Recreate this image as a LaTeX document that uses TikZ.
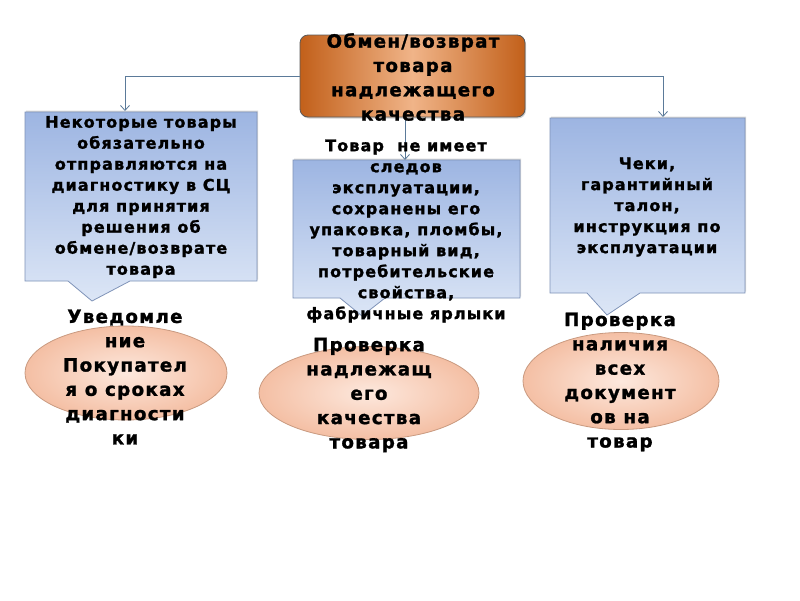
\documentclass[tikz,border=0pt]{standalone}
\usepackage{fontspec}
\setmainfont{DejaVu Sans}[LetterSpace=7, BoldFeatures={FakeBold=1.4}]
\usetikzlibrary{arrows.meta,shadows,shapes.geometric}
\definecolor{orOut}{HTML}{C2601A}
\definecolor{orIn}{HTML}{F0B488}
\definecolor{blTop}{HTML}{9DB5E2}
\definecolor{blBot}{HTML}{DCE6F6}
\definecolor{blEdge}{HTML}{7F93B8}
\definecolor{peOut}{HTML}{F4BFA4}
\definecolor{peIn}{HTML}{FDE8DD}
\definecolor{peEdge}{HTML}{C99A80}
\definecolor{conn}{HTML}{5B7A99}
\tikzset{
  topbox/.style={draw=gray!70!black, line width=0.8pt, rounded corners=8pt,
    left color=orOut, right color=orOut, middle color=orIn,
    drop shadow={shadow xshift=1pt, shadow yshift=-1.5pt, opacity=0.35}},
  callout/.style={draw=blEdge, line width=0.8pt, top color=blTop, bottom color=blBot,
    drop shadow={shadow xshift=1pt, shadow yshift=1.5pt, opacity=0.3}},
  oval/.style={ellipse, draw=peEdge, line width=0.8pt, inner color=peIn, outer color=peOut},
  boxtext/.style={align=center, inner sep=0pt, font=\bfseries\fontsize{16}{21}\selectfont},
  bigtext/.style={align=center, inner sep=0pt, font=\bfseries\fontsize{18.3}{24.3}\selectfont},
  link/.style={draw=conn, line width=0.8pt, -{Straight Barb[length=5pt,width=9pt]}}
}
\begin{document}
\begin{tikzpicture}[x=1pt,y=-1pt]
\useasboundingbox[fill=white] (0,0) rectangle (800,600);

% top box
\node[topbox, minimum width=225pt, minimum height=82pt, inner sep=0pt] (top) at (412.5,76) {};

% callout boxes
\path[callout] (25,112) -- (257,112) -- (257,281) -- (130,281) -- (92,301) -- (68,281) -- (25,281) -- cycle;
\path[callout] (293,160) -- (520,160) -- (520,298) -- (385,298) -- (362,316) -- (340,298) -- (293,298) -- cycle;
\path[callout] (550,118) -- (745,118) -- (745,293) -- (640,293) -- (607,315) -- (587,293) -- (550,293) -- cycle;
\coordinate (lboxtop) at (125,111);
\coordinate (cboxtop) at (405,160);
\coordinate (rboxtop) at (663,117);

% connectors
\draw[link] (top.west) -| (lboxtop);
\draw[link] (top.east) -| (rboxtop);
\draw[link] (top.south -| cboxtop) -- (cboxtop);

% ellipses
\node[oval, minimum width=202pt, minimum height=94pt] (lov) at (126,373) {};
\node[oval, minimum width=220pt, minimum height=93pt] (cov) at (369,393) {};
\node[oval, minimum width=196pt, minimum height=97pt] (rov) at (621,381) {};

% texts
\node[bigtext] (toptext) at (413,77) {Обмен/возврат\\товара\\надлежащего\\качества};
\node[boxtext] (ltext) at (141,197) {Некоторые товары\\обязательно\\отправляются на\\диагностику в СЦ\\для принятия\\решения об\\обмене/возврате\\товара};
\node[boxtext] (ctext) at (406,231) {Товар \ не имеет\\следов\\эксплуатации,\\сохранены его\\упаковка, пломбы,\\товарный вид,\\потребительские\\свойства,\\фабричные ярлыки};
\node[boxtext] (rtext) at (647,207) {Чеки,\\гарантийный\\талон,\\инструкция по\\эксплуатации};
\node[bigtext] (lovtext) at (125,377) {Уведомле\\ние\\Покупател\\я о сроках\\диагности\\ки};
\node[bigtext] (covtext) at (369,395) {Проверка\\надлежащ\\его\\качества\\товара};
\node[bigtext] (rovtext) at (620,382) {Проверка\\наличия\\всех\\документ\\ов на\\товар};
\end{tikzpicture}
\end{document}
